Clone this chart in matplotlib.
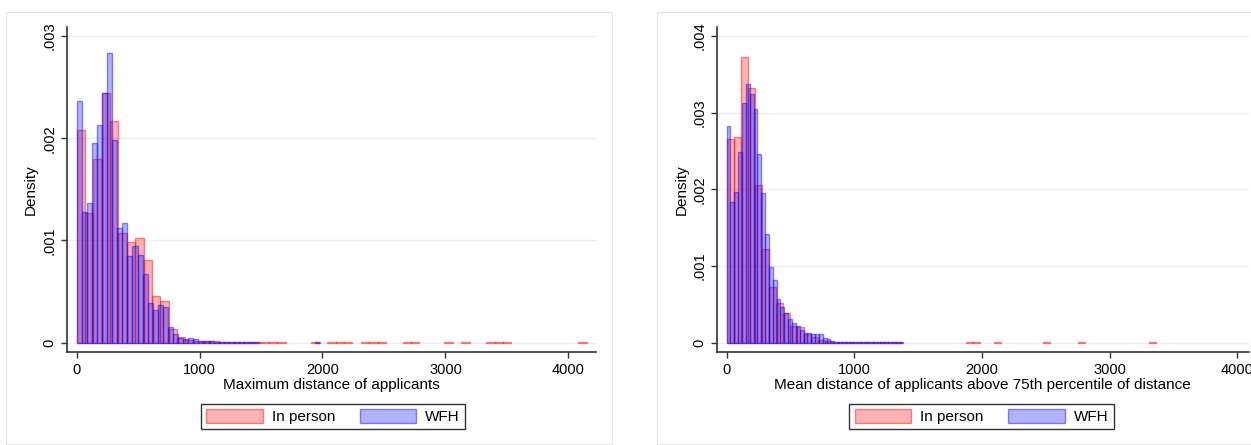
import numpy as np
import matplotlib.pyplot as plt
from matplotlib.patches import Patch, Rectangle

plt.rcParams['font.family'] = ['Liberation Sans', 'DejaVu Sans']

# Left panel: maximum distance of applicants
max_inperson_width = 68.0
max_inperson_dens = [
    0.00208, 0.001265, 0.001793, 0.002439, 0.002165, 0.00107, 0.000988, 0.00102,
    0.000805, 0.000456, 0.000404, 0.000134, 0.000059, 0.00003, 0.00002, 0.000015,
    0.000012, 0.00001, 0.000008, 0.000007, 0.000006, 0.000006, 0.000005, 0.000005,
    0.000004, 0, 0, 0, 0.000004, 0, 0.000004, 0.000004, 0.000004, 0, 0.000004,
    0.000004, 0.000004, 0, 0, 0.000004, 0.000004, 0, 0, 0, 0.000004, 0, 0.000004,
    0, 0, 0.000004, 0.000004, 0.000004, 0, 0, 0, 0, 0, 0, 0, 0, 0.000004,
]
max_wfh_width = 41.3
max_wfh_dens = [
    0.002367, 0.001281, 0.001363, 0.001956, 0.002132, 0.00244, 0.00283, 0.00198,
    0.001125, 0.001167, 0.000851, 0.000946, 0.000854, 0.000668, 0.000391, 0.000316,
    0.000365, 0.000352, 0.000157, 0.000082, 0.00005, 0.000033, 0.000042, 0.000033,
    0.00002, 0.000015, 0.000013, 0.00001, 0.00001, 0.000008, 0.000008, 0.000007,
    0.000006, 0.000006, 0.000005, 0.000005, 0, 0, 0, 0, 0, 0, 0, 0, 0, 0, 0, 0.000005,
]

# Right panel: mean distance above 75th percentile
mean_inperson_width = 55.1
mean_inperson_dens = [
    0.002652, 0.002678, 0.00373, 0.003317, 0.002057, 0.001217, 0.00073, 0.00052,
    0.00039, 0.00022, 0.00021, 0.00012, 0.00008, 0.00004, 0.00002, 0.000015,
    0.00001, 0.00001, 0.000008, 0.000006, 0.000006, 0.000005, 0.000005, 0.000005,
    0.000005, 0, 0, 0, 0, 0, 0, 0, 0, 0, 0.000005, 0.000005, 0, 0, 0.000005, 0,
    0, 0, 0, 0, 0, 0.000005, 0, 0, 0, 0, 0.000005, 0, 0, 0, 0, 0, 0, 0, 0, 0,
    0.000005,
]
mean_wfh_width = 30.1
mean_wfh_dens = [
    0.002826, 0.001835, 0.00197, 0.002483, 0.003122, 0.003374, 0.003239, 0.003043,
    0.002457, 0.001957, 0.001417, 0.000983, 0.000817, 0.00057, 0.00047, 0.000383,
    0.000304, 0.000261, 0.000217, 0.000165, 0.00013, 0.000122, 0.000113, 0.000113,
    0.000113, 0.000057, 0.000043, 0.00002, 0.000015, 0.000012, 0.00001, 0.00001,
    0.000008, 0.000008, 0.000007, 0.000006, 0.000006, 0.000005, 0.000005, 0.000005,
    0.000005, 0.000005, 0.000005, 0.000005, 0.000005, 0.000005,
]

x_ticks = [0, 1000, 2000, 3000, 4000]
left_yticks = [0, 0.001, 0.002, 0.003]
right_yticks = [0, 0.001, 0.002, 0.003, 0.004]
legend_labels = ["In person", "WFH"]

red_fill = (1, 0, 0, 0.3)
red_edge = (1, 0, 0, 0.45)
blue_fill = (0, 0, 1, 0.3)
blue_edge = (0, 0, 1, 0.45)
grid_col = '#e6eef0'
axis_col = '#333333'

W, H = 1251, 445
fig = plt.figure(figsize=(W / 100, H / 100), dpi=100)


def fx(px):
    return px / W


def fy(py):
    return 1 - py / H


# panel borders (stata graph region)
for x0, x1 in [(6, 612), (657, 1262)]:
    fig.patches.append(Rectangle((fx(x0), fy(444)), fx(x1 - x0), (444 - 12) / H,
                                 transform=fig.transFigure, fill=False,
                                 edgecolor='#e4e4e4', linewidth=0.8))


def draw_hist(ax, dens, width, fill, edge):
    dens = np.array(dens)
    left = np.arange(len(dens)) * width
    keep = dens > 0
    ax.bar(left[keep], dens[keep], width=width, align='edge',
           color=fill, edgecolor=edge, linewidth=1.0)


def style_axes(ax, yticks, xlim, ylim, xlabel):
    ax.set_xlim(*xlim)
    ax.set_ylim(*ylim)
    ax.set_xticks(x_ticks)
    ax.set_xticklabels([str(t) for t in x_ticks], fontsize=10.5)
    ax.set_yticks(yticks)
    ax.set_yticklabels(['0' if t == 0 else ('%.3f' % t)[1:] for t in yticks],
                       rotation=90, va='center', fontsize=10.5)
    ax.yaxis.grid(True, color=grid_col, linewidth=1.0)
    ax.set_axisbelow(True)
    for s in ['top', 'right']:
        ax.spines[s].set_visible(False)
    for s in ['left', 'bottom']:
        ax.spines[s].set_color(axis_col)
        ax.spines[s].set_linewidth(1.2)
    ax.tick_params(length=4.5, width=1, color=axis_col, pad=3)
    ax.set_ylabel("Density", fontsize=11)
    ax.set_xlabel(xlabel, fontsize=11, labelpad=1)


# left panel
ax1 = fig.add_axes([fx(66.7), fy(352.3), fx(596 - 66.7), (352.3 - 27) / H])
draw_hist(ax1, max_inperson_dens, max_inperson_width, red_fill, red_edge)
draw_hist(ax1, max_wfh_dens, max_wfh_width, blue_fill, blue_edge)
style_axes(ax1, left_yticks, (-81, 4225), (-0.000094, 0.003089),
           "Maximum distance of applicants")
ax1.yaxis.set_label_coords((38 - 66.7) / (596 - 66.7), 0.5)

# right panel
ax2 = fig.add_axes([fx(716.7), fy(352.3), fx(1249 - 716.7), (352.3 - 27) / H])
draw_hist(ax2, mean_inperson_dens, mean_inperson_width, red_fill, red_edge)
draw_hist(ax2, mean_wfh_dens, mean_wfh_width, blue_fill, blue_edge)
style_axes(ax2, right_yticks, (-78, 4092), (-0.000125, 0.004118),
           "Mean distance of applicants above 75th percentile of distance")
ax2.yaxis.set_label_coords((689 - 716.7) / (1249 - 716.7), 0.5)

# legends
handles = [Patch(facecolor=red_fill, edgecolor=red_edge, linewidth=1.0),
           Patch(facecolor=blue_fill, edgecolor=blue_edge, linewidth=1.0)]
for cx in [333, 981.5]:
    leg = fig.legend(handles, legend_labels, loc='center', ncol=2,
                     bbox_to_anchor=(fx(cx), fy(416.5)), fontsize=11,
                     frameon=True, fancybox=False, edgecolor='black',
                     handlelength=3.7, handleheight=1.0, handletextpad=0.6,
                     columnspacing=1.6, borderpad=0.35, borderaxespad=0)
    leg.get_frame().set_linewidth(1.0)

fig.savefig("out.png", dpi=100)
